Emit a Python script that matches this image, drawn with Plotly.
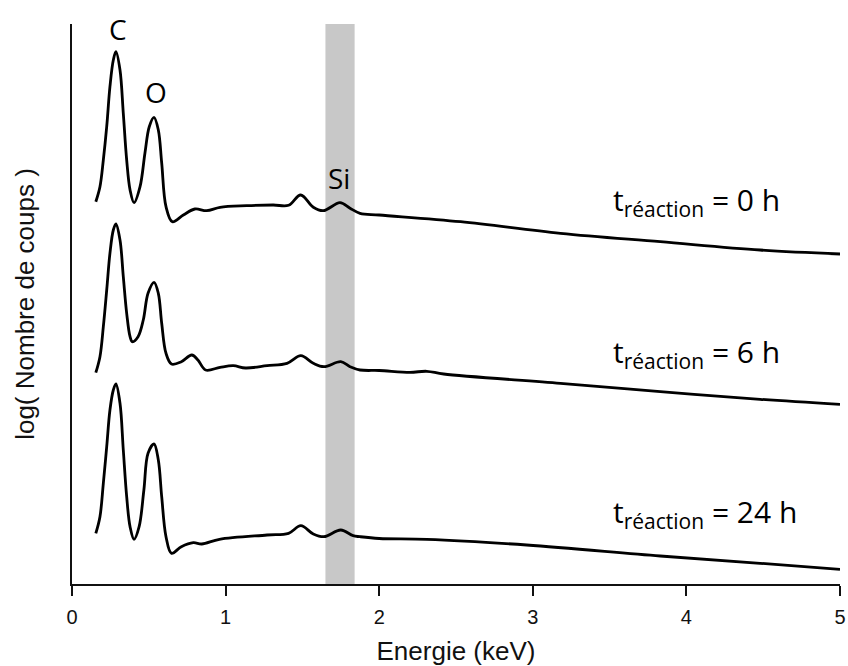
import plotly.graph_objects as go

# Energy (keV) and log(counts) in arbitrary units (height above x axis)
x_0h = [0.155, 0.182, 0.204, 0.226, 0.247, 0.269, 0.286, 0.3125, 0.334, 0.356, 0.378, 0.404,
        0.443, 0.475, 0.503, 0.534, 0.562, 0.584, 0.612, 0.653, 0.725, 0.80, 0.877, 0.964,
        1.137, 1.31, 1.41, 1.489, 1.571, 1.636, 1.745, 1.81, 1.875, 2.0, 2.53, 3.18, 3.83, 4.48, 5.0]
py_0h = [201.7, 186.7, 160, 126.7, 86.7, 60, 51.7, 70, 113.3, 160, 190, 202.7,
         186.7, 153, 126.7, 117.3, 130, 163, 206.7, 221.7, 215, 209, 210.7, 207.3,
         205.7, 205, 205.3, 195, 207.3, 210.7, 202.7, 208.3, 213.3, 215, 221.7, 233.3, 241.7, 250, 254]

x_6h = [0.155, 0.182, 0.204, 0.226, 0.247, 0.269, 0.286, 0.3125, 0.334, 0.356, 0.378, 0.393,
        0.430, 0.464, 0.495, 0.534, 0.562, 0.584, 0.612, 0.648, 0.712, 0.78, 0.82, 0.87, 0.964,
        1.05, 1.13, 1.27, 1.40, 1.49, 1.571, 1.64, 1.75, 1.81, 1.875, 2.0, 2.2, 2.31, 2.42,
        3.18, 3.83, 4.48, 5.0]
py_6h = [372.7, 356.7, 326.7, 290, 253.3, 230, 224, 240, 276.7, 313.3, 336.7, 341.7,
         336.7, 320, 293.3, 282.3, 293.3, 323.3, 353.3, 364, 361.7, 355, 360, 370, 367.3,
         365.7, 368, 365.7, 363.3, 355.7, 363.3, 366.7, 361.7, 366.7, 370, 370.5, 372.3, 371.3, 374,
         383.3, 391.7, 399.3, 404.3]

x_24h = [0.155, 0.182, 0.204, 0.226, 0.247, 0.269, 0.286, 0.3125, 0.334, 0.356, 0.378, 0.404,
         0.437, 0.468, 0.495, 0.534, 0.562, 0.584, 0.612, 0.648, 0.712, 0.79, 0.845, 0.96,
         1.27, 1.41, 1.49, 1.571, 1.64, 1.75, 1.83, 1.875, 2.0, 2.31, 2.96, 3.83, 4.48, 5.0]
py_24h = [533.3, 516.7, 483.3, 446.7, 410, 390, 384, 403.3, 450, 496.7, 526.7, 539.3,
          526.7, 490, 453.3, 444, 460, 496.7, 536.7, 553.3, 546.7, 542.7, 544, 539.3,
          535, 533.3, 525.7, 534, 536.7, 530, 535.7, 536.7, 538.5, 539.3, 545, 556, 563.3, 569.3]

BASE = 584
y_0h = [BASE - v for v in py_0h]
y_6h = [BASE - v for v in py_6h]
y_24h = [BASE - v for v in py_24h]

series = [(x_0h, y_0h, "0 h"), (x_6h, y_6h, "6 h"), (x_24h, y_24h, "24 h")]
label_y = [383, 231, 71]
si_band = (1.65, 1.84)

fig = go.Figure()
for (xs, ys, name) in series:
    fig.add_trace(go.Scatter(x=xs, y=ys, mode="lines", name=name, hoverinfo="skip",
                             line=dict(color="black", width=2.8, shape="spline", smoothing=1.0),
                             showlegend=False))

fig.add_shape(type="rect", xref="x", yref="paper", x0=si_band[0], x1=si_band[1], y0=0, y1=1,
              fillcolor="#c8c8c8", line=dict(width=0), layer="below")

peak_font = dict(family="Open Sans, Noto Sans, sans-serif", size=28, color="black")
fig.add_annotation(x=0.30, y=555, text="C", showarrow=False, font=peak_font)
fig.add_annotation(x=0.55, y=492, text="O", showarrow=False, font=peak_font)
fig.add_annotation(x=1.74, y=406, text="Si", showarrow=False, font=peak_font)

for (xs, ys, name), ly in zip(series, label_y):
    fig.add_annotation(x=3.51, y=ly, xanchor="left", yanchor="middle",
                       text="t<sub>réaction</sub> = " + name, showarrow=False,
                       font=dict(family="Open Sans, Noto Sans, sans-serif", size=30, color="black"))

axis_font = "Liberation Sans, Arial, sans-serif"
fig.update_layout(
    width=848, height=666,
    margin=dict(l=72, r=8, t=24, b=82),
    plot_bgcolor="white", paper_bgcolor="white",
    xaxis=dict(range=[0, 5], tickvals=[0, 1, 2, 3, 4, 5], ticks="outside", ticklen=10,
               tickwidth=1.5, tickcolor="#111", showline=True, linecolor="#111", linewidth=1.5,
               showgrid=False, zeroline=False, automargin=False, ticklabelstandoff=4,
               tickfont=dict(family=axis_font, size=20, color="#111"),
               title=dict(text="Energie (keV)", standoff=22,
                          font=dict(family=axis_font, size=26, color="#111"))),
    yaxis=dict(range=[0, 560], showticklabels=False, ticks="", showline=True, linecolor="#111",
               linewidth=1.5, showgrid=False, zeroline=False, automargin=False,
               title=dict(text="log( Nombre de coups )", standoff=28,
                          font=dict(family=axis_font, size=26, color="#111"))),
)

fig.write_html("out.html", config={"displayModeBar": False},
               post_script="document.body.style.margin='0';document.body.style.overflow='hidden';")
